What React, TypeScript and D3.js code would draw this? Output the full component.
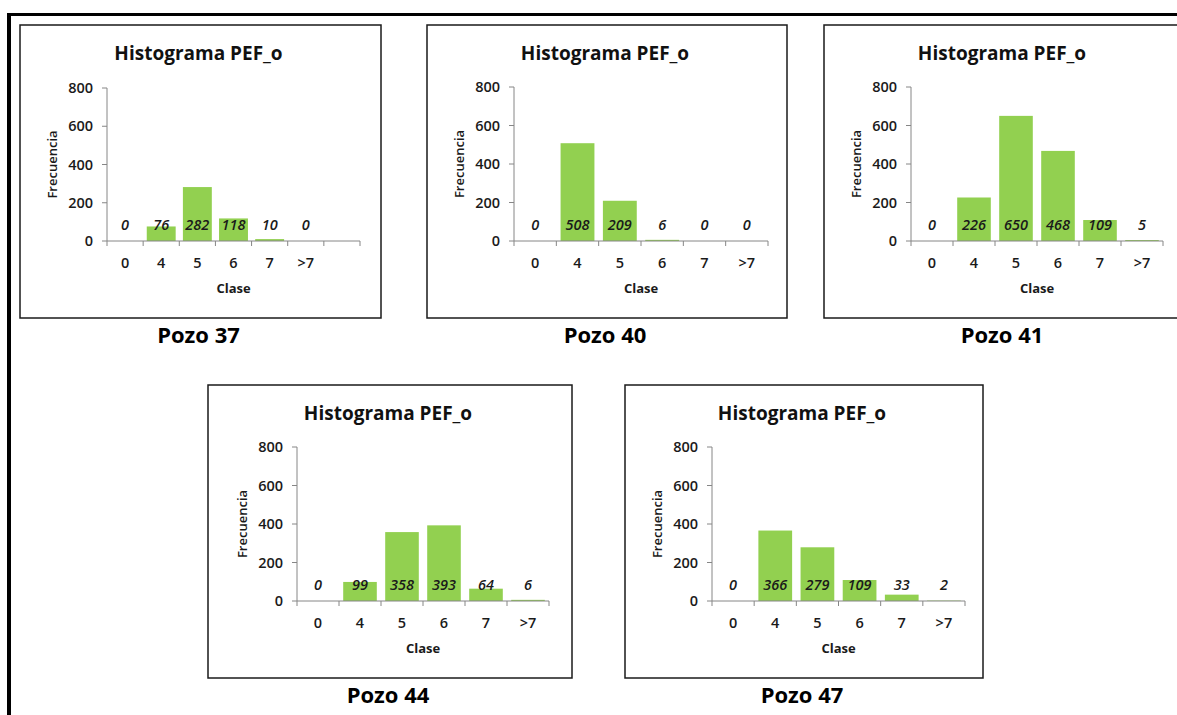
import React from "react";
import * as d3 from "d3";

const categories37 = ["0", "4", "5", "6", "7", ">7", ""];
const categories = ["0", "4", "5", "6", "7", ">7"];
const pozo37 = [0, 76, 282, 118, 10, 0, null];
const pozo40 = [0, 508, 209, 6, 0, 0];
const pozo41 = [0, 226, 650, 468, 109, 5];
const pozo44 = [0, 99, 358, 393, 64, 6];
const pozo47 = [0, 366, 279, 109, 33, 2];
const yTicks = [0, 200, 400, 600, 800];
const chartTitle = "Histograma PEF_o";
const xTitle = "Clase";
const yTitle = "Frecuencia";

const FONT = "'Open Sans', Lato, sans-serif";

type Panel = {
  name: string;
  cats: string[];
  values: (number | null)[];
  box: [number, number, number, number];
  axisX: [number, number];
  axisY: [number, number];
};

const panels: Panel[] = [
  { name: "Pozo 37", cats: categories37, values: pozo37, box: [20, 25, 361, 293], axisX: [107, 360], axisY: [241, 88] },
  { name: "Pozo 40", cats: categories, values: pozo40, box: [427, 25, 360, 293], axisX: [514, 768], axisY: [241, 87] },
  { name: "Pozo 41", cats: categories, values: pozo41, box: [824, 25, 360, 293], axisX: [911, 1163], axisY: [241, 87] },
  { name: "Pozo 44", cats: categories, values: pozo44, box: [208, 385, 364, 293], axisX: [297, 549], axisY: [601, 447] },
  { name: "Pozo 47", cats: categories, values: pozo47, box: [625, 385, 358, 293], axisX: [712, 965], axisY: [601, 447] },
];

function Chart({ p }: { p: Panel }) {
  const [bx, by, bw, bh] = p.box;
  const x = d3.scaleBand<string>().domain(p.cats.map((c, i) => String(i))).range(p.axisX).paddingInner(0.2).paddingOuter(0.1);
  const y = d3.scaleLinear().domain([0, 800]).range(p.axisY);
  const step = x.step();
  const y0 = y(0);
  const cx = bx + bw / 2 - 2;
  const axisColor = "#868686";
  return (
    <g>
      <rect x={bx} y={by} width={bw} height={bh} fill="#fff" stroke="#1a1a1a" strokeWidth={1.5} />
      <text x={cx} y={by + 35} textAnchor="middle" fontFamily={FONT} fontWeight="bold" fontSize={19} fill="#111">{chartTitle}</text>
      {/* y axis */}
      <line x1={p.axisX[0]} x2={p.axisX[0]} y1={y(800)} y2={y0} stroke={axisColor} />
      {yTicks.map((t) => (
        <g key={t}>
          <line x1={p.axisX[0] - 5} x2={p.axisX[0]} y1={y(t)} y2={y(t)} stroke={axisColor} />
          <text x={p.axisX[0] - 14} y={y(t)} dy="0.35em" textAnchor="end" fontFamily={FONT} fontWeight={600} fontSize={14.5} fill="#1a1a1a">{t}</text>
        </g>
      ))}
      <text transform={`translate(${p.axisX[0] - 55},${(y(800) + y0) / 2}) rotate(-90)`} textAnchor="middle" dy="0.35em" fontFamily={FONT} fontWeight={600} fontSize={13} fill="#1a1a1a">{yTitle}</text>
      {/* bars */}
      {p.values.map((v, i) =>
        v == null ? null : (
          <rect key={"b" + i} x={x(String(i))!} y={y(v)} width={x.bandwidth()} height={y0 - y(v)} fill="#92D050" />
        )
      )}
      {/* x axis */}
      <line x1={p.axisX[0]} x2={p.axisX[1]} y1={y0} y2={y0} stroke={axisColor} />
      {p.cats.map((c, i) => (
        <line key={"t" + i} x1={p.axisX[0] + step * i} x2={p.axisX[0] + step * i} y1={y0} y2={y0 + 5} stroke={axisColor} />
      ))}
      <line x1={p.axisX[1]} x2={p.axisX[1]} y1={y0} y2={y0 + 5} stroke={axisColor} />
      {p.cats.map((c, i) => (
        <text key={"l" + i} x={x(String(i))! + x.bandwidth() / 2} y={y0 + 22} dy="0.35em" textAnchor="middle" fontFamily={FONT} fontWeight={600} fontSize={14.5} fill="#1a1a1a">{c}</text>
      ))}
      {p.values.map((v, i) =>
        v == null ? null : (
          <text key={"v" + i} x={x(String(i))! + x.bandwidth() / 2} y={y0 - 16} dy="0.35em" textAnchor="middle" fontFamily={FONT} fontStyle="italic" fontWeight={600} fontSize={14.5} fill="#1a1a1a">{v}</text>
        )
      )}
      <text x={(p.axisX[0] + p.axisX[1]) / 2} y={y0 + 47} dy="0.35em" textAnchor="middle" fontFamily={FONT} fontWeight="bold" fontSize={13} fill="#1a1a1a">{xTitle}</text>
      <text x={cx} y={by + bh + 17} dy="0.35em" textAnchor="middle" fontFamily={FONT} fontWeight="bold" fontSize={22} fill="#000">{p.name}</text>
    </g>
  );
}

export default function App() {
  return (
    <svg width={1177} height={715} style={{ position: "absolute", left: 0, top: 0, background: "#fff" }}>
      <rect x={0} y={0} width={1177} height={715} fill="#fff" />
      {panels.map((p) => (
        <Chart key={p.name} p={p} />
      ))}
      <line x1={9} x2={9} y1={13} y2={715} stroke="#000" strokeWidth={4} />
      <line x1={7} x2={1177} y1={14.5} y2={14.5} stroke="#000" strokeWidth={3} />
    </svg>
  );
}
